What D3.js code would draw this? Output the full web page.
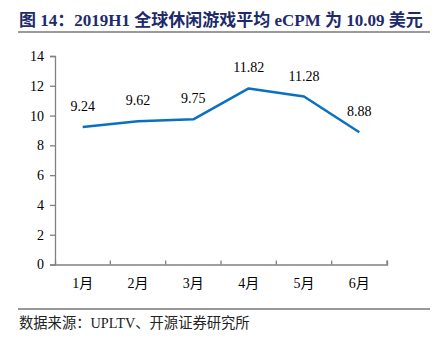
<!DOCTYPE html>
<html><head><meta charset="utf-8">
<script src="https://cdn.jsdelivr.net/npm/d3@7"></script>
<style>body{margin:0;background:#fff}svg{display:block}</style>
</head><body>
<script>
const categories = ["1月","2月","3月","4月","5月","6月"];
const values = [9.24, 9.62, 9.75, 11.82, 11.28, 8.88];
const yTicks = [0,2,4,6,8,10,12,14];
const titleText = "图 14：2019H1 全球休闲游戏平均 eCPM 为 10.09 美元";
const sourceText = "数据来源：UPLTV、开源证券研究所";

const W = 444, H = 339;
const serif = "'Liberation Serif','Times New Roman','Noto Sans CJK SC',serif";
const svg = d3.select("body").append("svg").attr("width", W).attr("height", H);

svg.append("text").attr("x", 19).attr("y", 26)
  .attr("font-family", serif).attr("font-weight", "bold").attr("font-size", 17)
  .attr("fill", "#1d2a6b").text(titleText);
svg.append("line").attr("x1", 18).attr("x2", 430).attr("y1", 32).attr("y2", 32)
  .attr("stroke", "#9a9a9a").attr("stroke-width", 2);

const x = d3.scaleBand().domain(categories).range([55, 387]);
const y = d3.scaleLinear().domain([0, 14]).range([264.5, 56]);

const gy = svg.append("g").attr("transform", "translate(55,0)")
  .call(d3.axisLeft(y).tickValues(yTicks).tickSize(5).tickPadding(6).tickFormat(d3.format("d")));
const gx = svg.append("g").attr("transform", "translate(0,264.5)")
  .call(d3.axisBottom(x).tickSize(-4).tickPadding(14).tickSizeOuter(-4));
gx.selectAll(".tick line").attr("transform", `translate(${x.bandwidth()/2},0)`);
[gx, gy].forEach(g => {
  g.selectAll("path,line").attr("stroke", "#808080").attr("stroke-width", 1.3);
  g.selectAll("text").attr("font-family", serif).attr("font-size", 14).attr("fill", "#000");
});

const cx = d => x(d) + x.bandwidth()/2;
const line = d3.line().x((d,i) => cx(categories[i])).y(d => y(d));
svg.append("path").datum(values).attr("d", line)
  .attr("fill", "none").attr("stroke", "#0a70c2").attr("stroke-width", 2.5)
  .attr("stroke-linejoin", "round");

svg.selectAll(".lbl").data(values).enter().append("text")
  .attr("x", (d,i) => cx(categories[i]))
  .attr("y", d => y(d) - 16)
  .attr("text-anchor", "middle")
  .attr("font-family", serif).attr("font-size", 14).attr("fill", "#000")
  .text(d => d.toFixed(2));

svg.append("line").attr("x1", 18).attr("x2", 430).attr("y1", 309).attr("y2", 309)
  .attr("stroke", "#333").attr("stroke-width", 1);
svg.append("text").attr("x", 19).attr("y", 328)
  .attr("font-family", serif).attr("font-size", 14.3).attr("fill", "#222")
  .text(sourceText);
</script>
</body></html>
